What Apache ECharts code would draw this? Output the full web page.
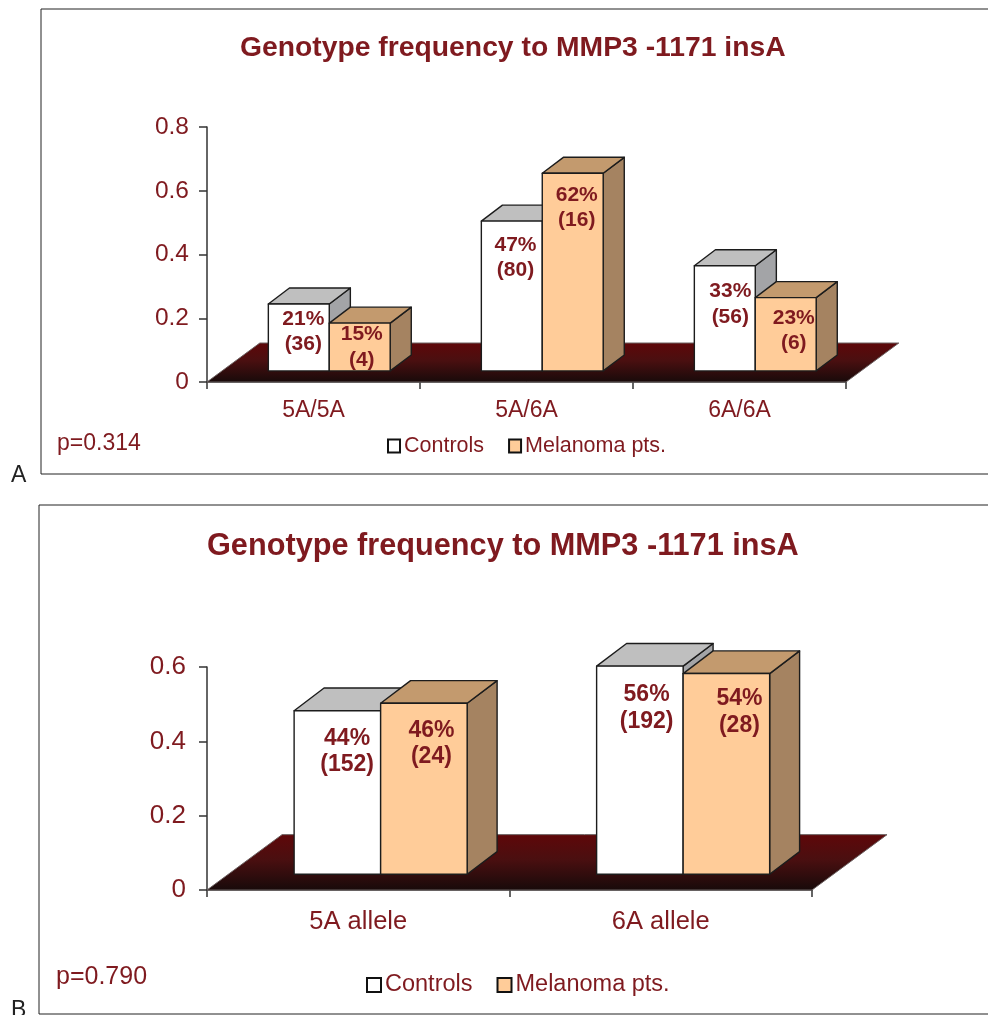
<!DOCTYPE html>
<html>
<head>
<meta charset="utf-8">
<title>Genotype frequency to MMP3 -1171 insA</title>
<script src="https://cdn.jsdelivr.net/npm/echarts@6/dist/echarts.min.js"></script>
<style>
html, body { margin: 0; padding: 0; background: #fff; }
#main { width: 988px; height: 1015px; }
</style>
</head>
<body>
<div id="main"></div>
<script>
var titleText = 'Genotype frequency to MMP3 -1171 insA';
var seriesNames = ['Controls', 'Melanoma pts.'];

// panel A
var categoriesA = ['5A/5A', '5A/6A', '6A/6A'];
var controlsA = [0.21, 0.47, 0.33];
var melanomaA = [0.15, 0.62, 0.23];
var controlsCountA = [36, 80, 56];
var melanomaCountA = [4, 16, 6];

// panel B
var categoriesB = ['5A allele', '6A allele'];
var controlsB = [0.44, 0.56];
var melanomaB = [0.46, 0.54];
var controlsCountB = [152, 192];
var melanomaCountB = [24, 28];

// label nudges from the bar's front face (centre x, top y), the source placed them by hand
var controlsNudgeA = [[4.5, 27.5], [3.7, 36.5], [5.5, 38.3]];
var melanomaNudgeA = [[2, 24], [4, 34.5], [8, 33]];
var controlsNudgeB = [[9.7, 41], [6.7, 42]];
var melanomaNudgeB = [[7.5, 40.5], [13, 38.7]];

var textColor = '#7f1a1f';
var edgeColor = '#1c1c1c';
var fontName = '"Liberation Sans", Arial, sans-serif';

var controlsColors = { front: '#ffffff', top: '#bfbfbf', side: '#a3a4a7' };
var melanomaColors = { front: '#ffcc99', top: '#c39a6e', side: '#a58361' };

// 3D proportions, all as a share of the category band
var barRatio = 0.286;
var shiftX = 0.074, shiftY = 0.052;
var depthX = 0.099, depthY = 0.075;
var floorX = 0.248, floorY = 0.183;

var floorGradient = new echarts.graphic.LinearGradient(0, 0, 0, 1, [
    { offset: 0, color: '#5f0709' },
    { offset: 0.45, color: '#4a0f10' },
    { offset: 1, color: '#170a0a' }
]);

function renderFloor(params, api) {
    var band = api.size([1, 0])[0];
    var c = params.coordSys;
    var bottom = c.y + c.height;
    return {
        type: 'polygon',
        shape: {
            points: [
                [c.x, bottom],
                [c.x + c.width, bottom],
                [c.x + c.width + band * floorX, bottom - band * floorY],
                [c.x + band * floorX, bottom - band * floorY]
            ]
        },
        style: { fill: floorGradient, stroke: '#6b6060', lineWidth: 1 }
    };
}

function boxRenderer(side, colors, nudges, fontSize, lineHeight) {
    return function (params, api) {
        var i = api.value(0);
        var band = api.size([1, 0])[0];
        var top = api.coord([i, api.value(1)]);
        var base = api.coord([i, 0]);
        var w = band * barRatio;
        var x0 = top[0] + band * shiftX + side * w;
        var x1 = x0 + w;
        var y0 = top[1] - band * shiftY;
        var y1 = base[1] - band * shiftY;
        var dx = band * depthX;
        var dy = band * depthY;
        var stroke = { stroke: edgeColor, lineWidth: 1.4, lineJoin: 'round' };
        var nudge = nudges[params.dataIndex];
        return {
            type: 'group',
            children: [
                {
                    type: 'polygon',
                    shape: { points: [[x1, y0], [x1 + dx, y0 - dy], [x1 + dx, y1 - dy], [x1, y1]] },
                    style: Object.assign({ fill: colors.side }, stroke)
                },
                {
                    type: 'polygon',
                    shape: { points: [[x0, y0], [x0 + dx, y0 - dy], [x1 + dx, y0 - dy], [x1, y0]] },
                    style: Object.assign({ fill: colors.top }, stroke)
                },
                {
                    type: 'rect',
                    shape: { x: x0, y: y0, width: w, height: y1 - y0 },
                    style: Object.assign({ fill: colors.front }, stroke)
                },
                {
                    type: 'text',
                    z2: 10,
                    style: {
                        x: x0 + w / 2 + nudge[0],
                        y: y0 + nudge[1],
                        text: Math.round(api.value(1) * 100) + '%\n(' + api.value(2) + ')',
                        align: 'center',
                        verticalAlign: 'middle',
                        fontFamily: fontName,
                        fontWeight: 'bold',
                        fontSize: fontSize,
                        lineHeight: lineHeight,
                        fill: textColor
                    }
                }
            ]
        };
    };
}

function toRows(values, counts) {
    return values.map(function (v, i) { return [i, v, counts[i]]; });
}

function panelSeries(gridIndex, controls, controlsCount, melanoma, melanomaCount, nudgeC, nudgeM, fontSize, lineHeight) {
    return [
        {
            type: 'custom',
            silent: true,
            xAxisIndex: gridIndex,
            yAxisIndex: gridIndex,
            z: 1,
            renderItem: renderFloor,
            data: [[0, 0]],
            encode: { x: 0, y: 1 }
        },
        {
            name: seriesNames[0],
            type: 'custom',
            xAxisIndex: gridIndex,
            yAxisIndex: gridIndex,
            z: 2,
            itemStyle: { color: controlsColors.front },
            renderItem: boxRenderer(-1, controlsColors, nudgeC, fontSize, lineHeight),
            data: toRows(controls, controlsCount),
            encode: { x: 0, y: 1 }
        },
        {
            name: seriesNames[1],
            type: 'custom',
            xAxisIndex: gridIndex,
            yAxisIndex: gridIndex,
            z: 3,
            itemStyle: { color: melanomaColors.front },
            renderItem: boxRenderer(0, melanomaColors, nudgeM, fontSize, lineHeight),
            data: toRows(melanoma, melanomaCount),
            encode: { x: 0, y: 1 }
        }
    ];
}

function xAxisFor(gridIndex, categories, fontSize, margin) {
    return {
        type: 'category',
        gridIndex: gridIndex,
        data: categories,
        axisLine: { lineStyle: { color: '#333', width: 1.5 } },
        axisTick: { show: true, alignWithLabel: false, length: 7, lineStyle: { color: '#333', width: 1.5 } },
        axisLabel: { color: textColor, fontFamily: fontName, fontSize: fontSize, margin: margin },
        splitLine: { show: false }
    };
}

function yAxisFor(gridIndex, max, fontSize, margin) {
    return {
        type: 'value',
        gridIndex: gridIndex,
        min: 0,
        max: max,
        interval: 0.2,
        axisLine: { show: true, lineStyle: { color: '#333', width: 1.5 } },
        axisTick: { show: true, length: 8, lineStyle: { color: '#333', width: 1.5 } },
        axisLabel: { color: textColor, fontFamily: fontName, fontSize: fontSize, margin: margin },
        splitLine: { show: false }
    };
}

function legendFor(left, top, fontSize, gap, itemW, itemH) {
    return {
        left: left,
        top: top,
        padding: 0,
        itemWidth: itemW,
        itemHeight: itemH,
        itemGap: gap,
        selectedMode: false,
        textStyle: { color: textColor, fontFamily: fontName, fontSize: fontSize, padding: [0, 0, 0, -1] },
        data: [
            { name: seriesNames[0], icon: 'rect', itemStyle: { color: controlsColors.front, borderColor: '#111', borderWidth: 2 } },
            { name: seriesNames[1], icon: 'rect', itemStyle: { color: melanomaColors.front, borderColor: '#111', borderWidth: 2 } }
        ]
    };
}

function plainText(x, y, text, fontSize, color) {
    return {
        type: 'text',
        x: x,
        y: y,
        style: { text: text, fontFamily: fontName, fontSize: fontSize, fill: color, verticalAlign: 'middle' }
    };
}

var myChart = echarts.init(document.getElementById('main'));

var option = {
    animation: false,
    backgroundColor: '#fff',
    title: [
        { text: titleText, left: 235, top: 29, textStyle: { color: textColor, fontFamily: fontName, fontWeight: 'bold', fontSize: 28.3 } },
        { text: titleText, left: 202, top: 526, textStyle: { color: textColor, fontFamily: fontName, fontWeight: 'bold', fontSize: 30.7 } }
    ],
    legend: [
        legendFor(387, 435, 21.5, 24, 12, 13),
        legendFor(366, 973, 23.5, 24, 14, 14)
    ],
    grid: [
        { left: 207, top: 127, width: 639, height: 255 },
        { left: 207, top: 667, width: 605, height: 223 }
    ],
    xAxis: [
        xAxisFor(0, categoriesA, 23, 17),
        xAxisFor(1, categoriesB, 25.5, 19)
    ],
    yAxis: [
        yAxisFor(0, 0.8, 24.5, 18),
        yAxisFor(1, 0.6, 26, 21)
    ],
    series: panelSeries(0, controlsA, controlsCountA, melanomaA, melanomaCountA, controlsNudgeA, melanomaNudgeA, 21, 25.5)
        .concat(panelSeries(1, controlsB, controlsCountB, melanomaB, melanomaCountB, controlsNudgeB, melanomaNudgeB, 23, 26.5)),
    graphic: [
        { type: 'rect', shape: { x: 41, y: 9, width: 960, height: 465 }, style: { fill: 'none', stroke: '#222', lineWidth: 1 } },
        { type: 'rect', shape: { x: 39, y: 505, width: 960, height: 509 }, style: { fill: 'none', stroke: '#222', lineWidth: 1 } },
        plainText(57, 444, 'p=0.314', 23, textColor),
        plainText(56, 977, 'p=0.790', 25, textColor),
        plainText(11, 476, 'A', 23, '#222'),
        plainText(11, 1011, 'B', 23, '#222')
    ]
};

myChart.setOption(option);
</script>
</body>
</html>
